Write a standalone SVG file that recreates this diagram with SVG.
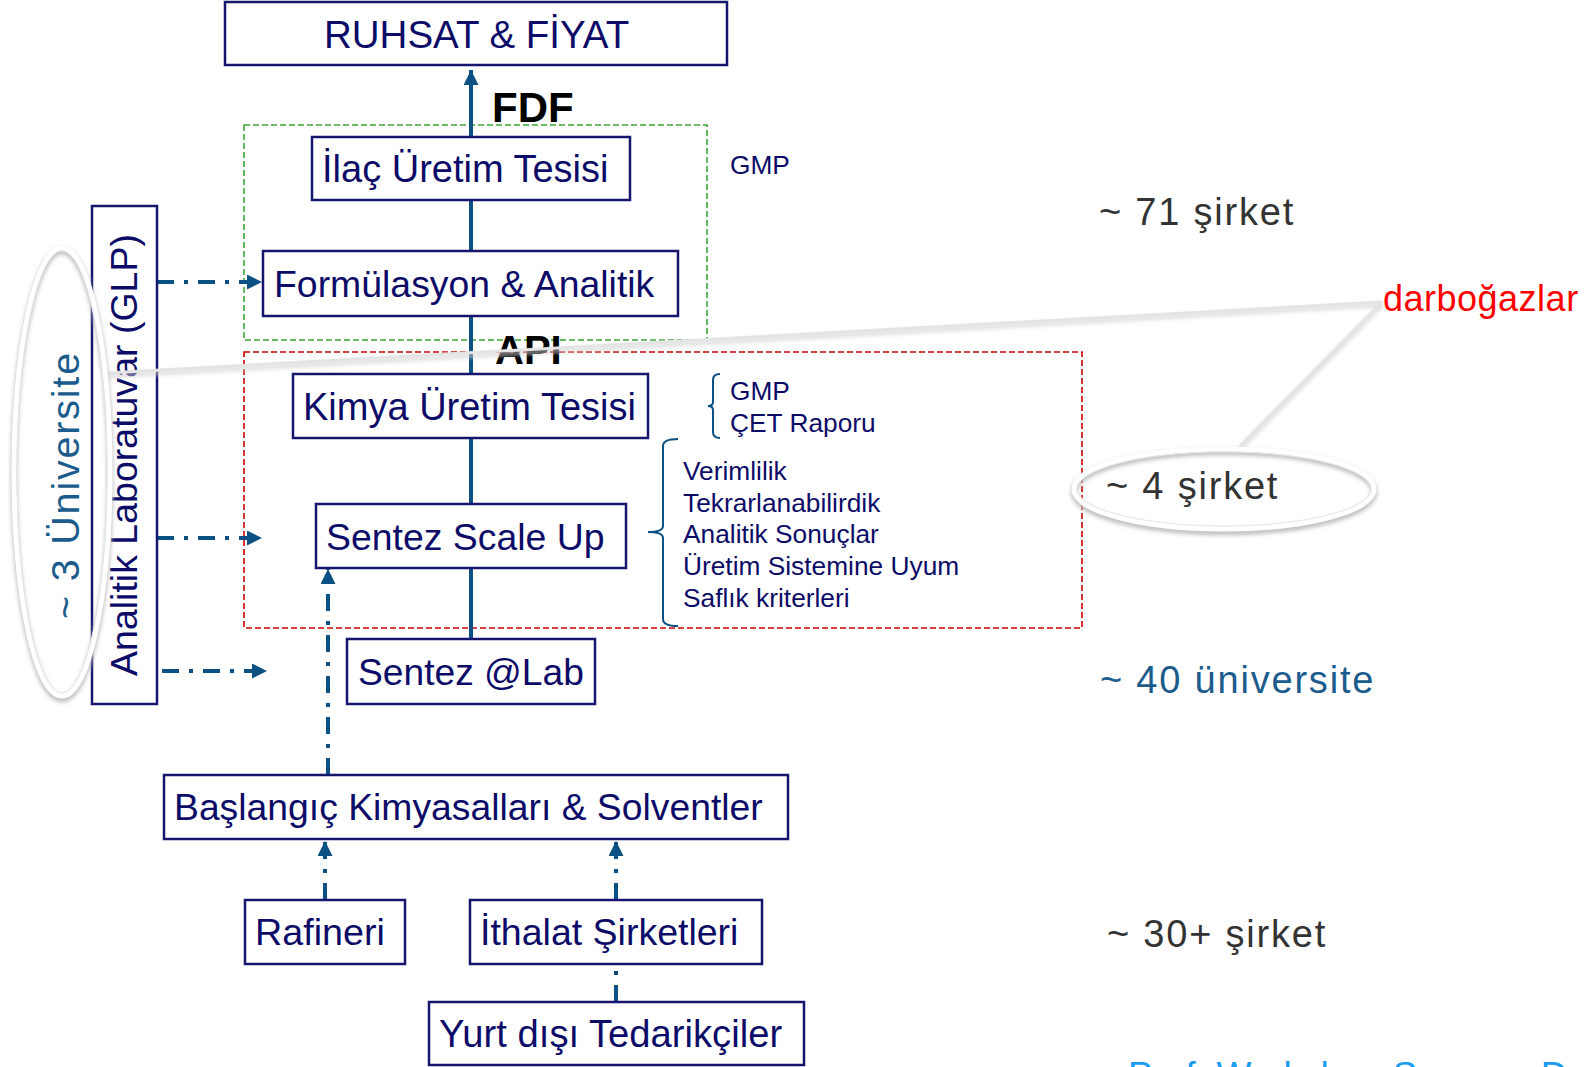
<svg xmlns="http://www.w3.org/2000/svg" width="1586" height="1067" viewBox="0 0 1586 1067">
<style>
.bx{fill:#fff;stroke:#15156e;stroke-width:2.5}
.t{font-family:"Liberation Sans",Arial,sans-serif;font-size:38px;fill:#0c0c68}
.s{font-family:"Liberation Sans",Arial,sans-serif;font-size:26.3px;fill:#0c0c68}
.big{font-family:"Liberation Sans",Arial,sans-serif;font-size:38px;letter-spacing:1.8px}
.bold{font-family:"Liberation Sans",Arial,sans-serif;font-weight:bold;fill:#000}
.main{stroke:#0b5183;stroke-width:4;fill:none}
.dd{stroke:#0b5183;stroke-width:4;fill:none;stroke-dasharray:17 10 4 10}
.brace{stroke:#0b5183;stroke-width:2;fill:none}
.gbox{fill:none;stroke:#3aa935;stroke-width:1.6;stroke-dasharray:6 3}
.rbox{fill:none;stroke:#cc0000;stroke-width:1.6;stroke-dasharray:6 3}
.call{stroke:#e4e4e4;stroke-width:3;fill:none}
.callsh{stroke:#cfcfcf;stroke-width:3;fill:none}
</style>
<defs>
<marker id="ah" markerUnits="userSpaceOnUse" markerWidth="16" markerHeight="16" refX="15" refY="7.5" orient="auto">
<path d="M0,0 L15,7.5 L0,15 z" fill="#0b5183"/>
</marker>
<filter id="blur" x="-20%" y="-20%" width="140%" height="140%"><feGaussianBlur stdDeviation="2"/></filter>
</defs>
<rect width="1586" height="1067" fill="#fff"/>

<g id="zone-gmp"><rect class="gbox" x="244" y="125" width="463" height="215"/></g>
<g id="zone-api"><rect class="rbox" x="244" y="352" width="838" height="276"/></g>

<g id="connectors">
<line class="main" x1="471" y1="639" x2="471" y2="70" marker-end="url(#ah)"/>
<line class="dd" x1="157" y1="282" x2="262" y2="282" marker-end="url(#ah)"/>
<line class="dd" x1="157" y1="538" x2="262" y2="538" marker-end="url(#ah)"/>
<line class="dd" x1="162" y1="671" x2="267" y2="671" marker-end="url(#ah)"/>
<line class="dd" x1="328" y1="775" x2="328" y2="569" marker-end="url(#ah)"/>
<line class="dd" x1="325" y1="900" x2="325" y2="841" marker-end="url(#ah)"/>
<line class="dd" x1="616" y1="900" x2="616" y2="841" marker-end="url(#ah)"/>
<line class="dd" x1="616" y1="1002" x2="616" y2="964"/>
</g>

<g id="ruhsat"><rect class="bx" x="225" y="2" width="502" height="63"/><text class="t" x="324" y="48" style="font-size:38.5px">RUHSAT &amp; FİYAT</text></g>
<g id="ilac"><rect class="bx" x="312" y="137" width="318" height="63"/><text class="t" x="322" y="182">İlaç Üretim Tesisi</text></g>
<g id="formulasyon"><rect class="bx" x="263" y="251" width="415" height="65"/><text class="t" x="274" y="297" style="font-size:37.4px">Formülasyon &amp; Analitik</text></g>
<g id="kimya"><rect class="bx" x="293" y="374" width="355" height="64"/><text class="t" x="303" y="420">Kimya Üretim Tesisi</text></g>
<g id="scaleup"><rect class="bx" x="316" y="504" width="310" height="64"/><text class="t" x="326" y="550" style="font-size:37.4px">Sentez Scale Up</text></g>
<g id="lab"><rect class="bx" x="347" y="639" width="248" height="65"/><text class="t" x="358" y="685" style="font-size:37.2px">Sentez @Lab</text></g>
<g id="baslangic"><rect class="bx" x="164" y="775" width="624" height="64"/><text class="t" x="174" y="820" style="font-size:37.3px">Başlangıç Kimyasalları &amp; Solventler</text></g>
<g id="rafineri"><rect class="bx" x="245" y="900" width="160" height="64"/><text class="t" x="255" y="945" style="font-size:37.7px">Rafineri</text></g>
<g id="ithalat"><rect class="bx" x="470" y="900" width="292" height="64"/><text class="t" x="480" y="945" style="font-size:37.5px">İthalat Şirketleri</text></g>
<g id="yurtdisi"><rect class="bx" x="429" y="1002" width="375" height="63"/><text class="t" x="439" y="1047" style="font-size:38.2px">Yurt dışı Tedarikçiler</text></g>
<g id="analitik-lab"><rect class="bx" x="92" y="206" width="65" height="498"/><text class="t" transform="translate(137,455) rotate(-90)" text-anchor="middle" style="font-size:37.5px">Analitik Laboratuvar (GLP)</text></g>

<g id="labels">
<text class="bold" x="492" y="122" font-size="42">FDF</text>
<text class="bold" x="495" y="364" font-size="40">API</text>
<text class="s" x="730" y="174">GMP</text>
<path class="brace" d="M720,374 Q713,374 713,380 L713,402 Q713,406 708,406 Q713,406 713,410 L713,432 Q713,438 720,438"/>
<text class="s" x="730" y="400">GMP</text>
<text class="s" x="730" y="432">ÇET Raporu</text>
<path class="brace" d="M678,439 Q663,439 663,446 L663,526 Q663,532 648,532 Q663,532 663,538 L663,619 Q663,626 678,626"/>
<text class="s" x="683" y="480">Verimlilik</text>
<text class="s" x="683" y="512">Tekrarlanabilirdik</text>
<text class="s" x="683" y="543">Analitik Sonuçlar</text>
<text class="s" x="683" y="575">Üretim Sistemine Uyum</text>
<text class="s" x="683" y="607">Saflık kriterleri</text>
<text class="big" x="1099" y="225" fill="#333">~ 71 şirket</text>
<text class="big" x="1100" y="693" fill="#1b5c8c">~ 40 üniversite</text>
<text class="big" x="1107" y="947" fill="#333">~ 30+ şirket</text>
</g>

<g id="callouts">
<line class="callsh" x1="1382" y1="305" x2="108" y2="376" filter="url(#blur)"/>
<line class="call" x1="1382" y1="302" x2="108" y2="373"/>
<line class="callsh" x1="1382" y1="305" x2="1240" y2="449" filter="url(#blur)"/>
<line class="call" x1="1382" y1="302" x2="1240" y2="446"/>
<text x="1383" y="311" font-family="'Liberation Sans',Arial,sans-serif" font-size="36" letter-spacing="0.5" fill="#ff0000">darboğazlar</text>
</g>

<g id="universite">
<ellipse cx="62" cy="475" rx="48" ry="224" fill="none" stroke="#bcbcbc" stroke-width="6" filter="url(#blur)"/>
<ellipse cx="62" cy="472" rx="48" ry="224" fill="none" stroke="#fff" stroke-width="5"/>
<ellipse cx="62" cy="472" rx="45" ry="221" fill="none" stroke="#e6e6e6" stroke-width="1"/>
<text class="big" transform="translate(79,485) rotate(-90)" text-anchor="middle" style="font-size:39.5px" fill="#1b5c8c">~ 3 Üniversite</text>
</g>

<g id="dort-sirket">
<ellipse cx="1224" cy="492" rx="150" ry="40" fill="none" stroke="#bcbcbc" stroke-width="6" filter="url(#blur)"/>
<ellipse cx="1224" cy="489" rx="150" ry="40" fill="none" stroke="#fff" stroke-width="5"/>
<ellipse cx="1224" cy="489" rx="147" ry="37" fill="none" stroke="#e6e6e6" stroke-width="1"/>
<text class="big" x="1106" y="499" fill="#333">~ 4 şirket</text>
</g>

<text x="1128" y="1088" font-family="'Liberation Sans',Arial,sans-serif" font-size="37" fill="#1a9cf0">Prof. Workshop Sunumu D</text>
</svg>
